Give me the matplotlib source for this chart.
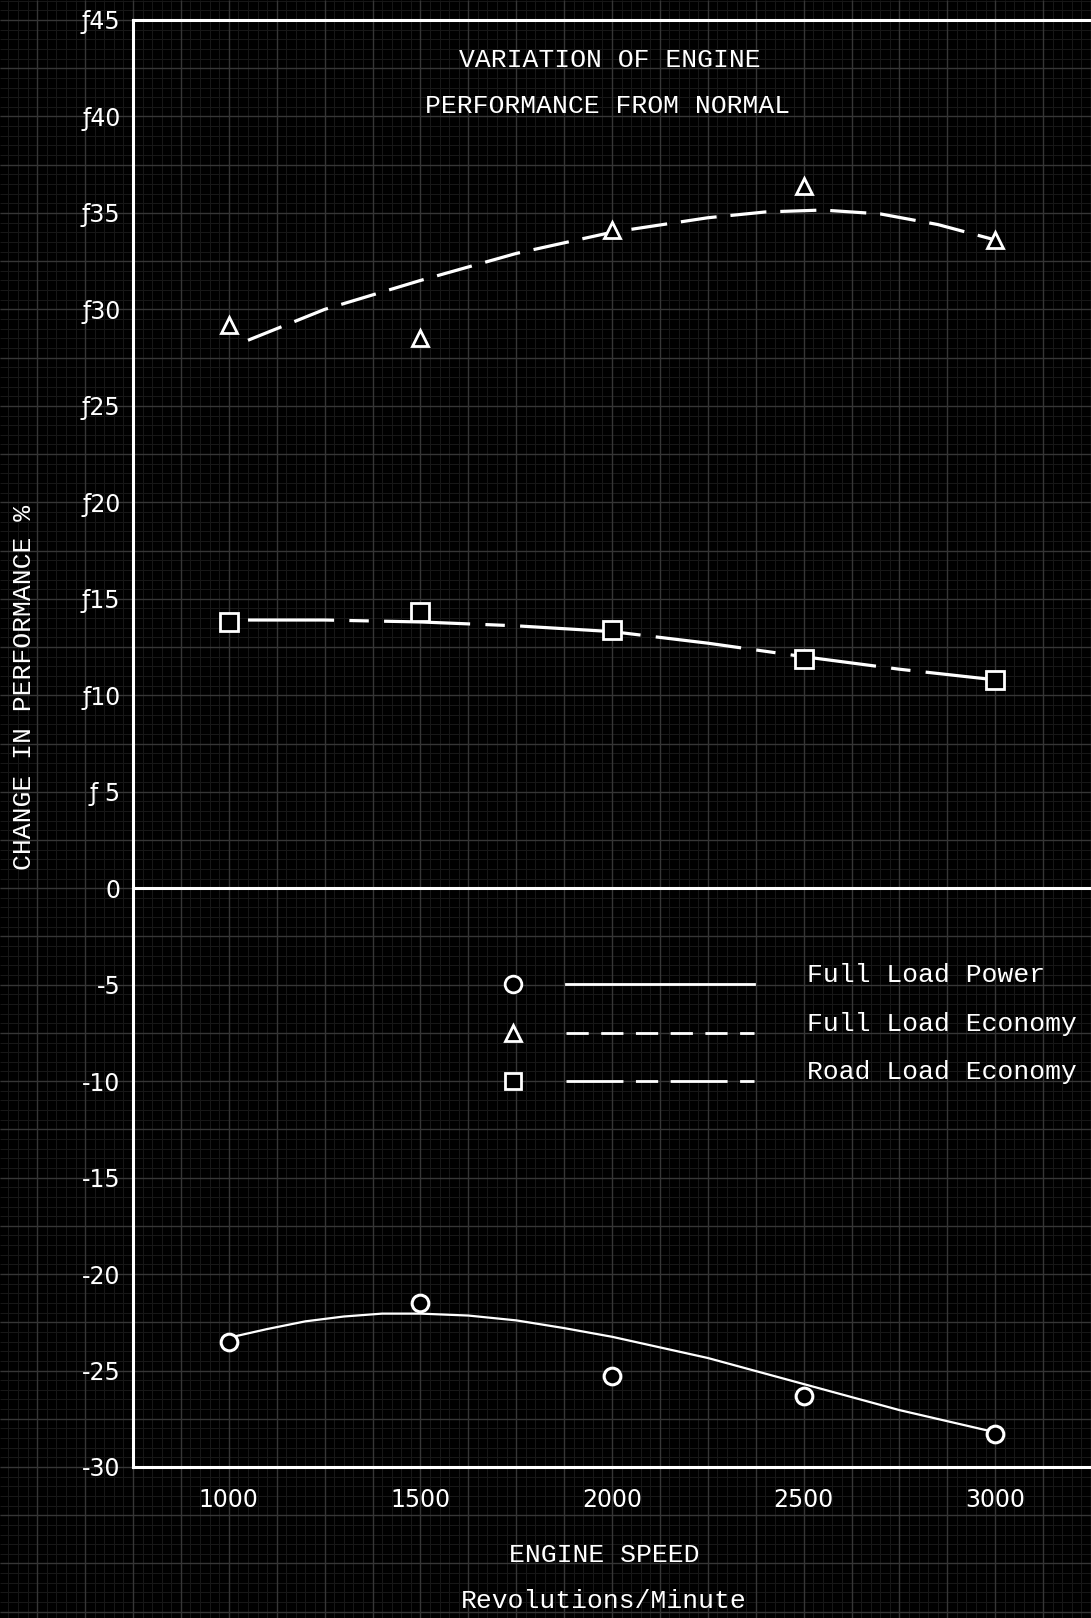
import numpy as np
import matplotlib
matplotlib.use("Agg")
import matplotlib.pyplot as plt

plt.rcParams['lines.scale_dashes'] = False

# measured points
rpm = [1000, 1500, 2000, 2500, 3000]
power_pts = [-23.5, -21.5, -25.3, -26.3, -28.3]
fle_pts = [29.2, 28.5, 34.1, 36.4, 33.6]
rle_pts = [13.8, 14.3, 13.4, 11.9, 10.8]

# faired curves
power_curve_rpm = [1000, 1100, 1200, 1300, 1400, 1500, 1625, 1750, 1875, 2000,
                   2250, 2500, 2750, 3000]
power_curve = [-23.3, -22.85, -22.45, -22.2, -22.05, -22.05, -22.15, -22.4, -22.8,
               -23.25, -24.35, -25.7, -27.05, -28.2]
fle_curve_rpm = [1050, 1250, 1500, 1750, 2000, 2250, 2400, 2550, 2700, 2850, 3000]
fle_curve = [28.4, 30.0, 31.5, 32.9, 34.0, 34.75, 35.05, 35.15, 34.95, 34.4, 33.6]
rle_curve_rpm = [1050, 1250, 1500, 1750, 2000, 2250, 2500, 2750, 3000]
rle_curve = [13.9, 13.9, 13.8, 13.6, 13.3, 12.7, 12.0, 11.35, 10.8]

xticks = [1000, 1500, 2000, 2500, 3000]
yticks = [45, 40, 35, 30, 25, 20, 15, 10, 5, 0, -5, -10, -15, -20, -25, -30]
ylabels = ['ƒ45', 'ƒ40', 'ƒ35', 'ƒ30', 'ƒ25', 'ƒ20', 'ƒ15', 'ƒ10', 'ƒ 5', '0',
           '-5', '-10', '-15', '-20', '-25', '-30']

legend_names = ['Full Load Power', 'Full Load Economy', 'Road Load Economy']

mono = 'Liberation Mono'
W, H = 1091, 1618
fig = plt.figure(figsize=(W / 100, H / 100), dpi=100, facecolor='black')

xlim = (750, 3250)
ylim = (-30, 45)
L, R = 133 / W, 1.0
B, T = 1 - 1467 / H, 1 - 20 / H

# graph paper behind everything, same scale as the plot
bg = fig.add_axes([0, 0, 1, 1], zorder=0)
bg.set_facecolor('black')
sx = (xlim[1] - xlim[0]) / (R - L)
sy = (ylim[1] - ylim[0]) / (T - B)
bx = (xlim[0] - L * sx, xlim[0] + (1 - L) * sx)
by = (ylim[0] - B * sy, ylim[0] + (1 - B) * sy)
bg.set_xlim(bx)
bg.set_ylim(by)
minor_x = np.arange(0, 4000, 25)
minor_y = np.arange(-50, 60, 0.5)
bg.vlines(minor_x, by[0], by[1], color='#181818', lw=0.7)
bg.hlines(minor_y, bx[0], bx[1], color='#181818', lw=0.7)
bg.vlines(minor_x[::5], by[0], by[1], color='#363636', lw=1.0)
bg.hlines(minor_y[::5], bx[0], bx[1], color='#363636', lw=1.0)
bg.axis('off')

ax = fig.add_axes([L, B, R - L, T - B], zorder=1)
ax.set_facecolor('none')
ax.set_xlim(xlim)
ax.set_ylim(ylim)
for s in ['left', 'top', 'bottom']:
    ax.spines[s].set_color('white')
    ax.spines[s].set_linewidth(2.2)
ax.spines['right'].set_visible(False)
ax.axhline(0, color='white', lw=2.2)

ax.set_xticks(xticks)
ax.set_xticklabels([str(v) for v in xticks])
ax.set_yticks(yticks)
ax.set_yticklabels(ylabels)
ax.tick_params(axis='x', length=0, pad=15, labelsize=17, labelcolor='white')
ax.tick_params(axis='y', length=0, pad=9, labelsize=17, labelcolor='white')

# curves
ax.plot(power_curve_rpm, power_curve, color='white', lw=1.6)
ax.plot(fle_curve_rpm, fle_curve, color='white', lw=2.3, dashes=(26, 10))
ax.plot(rle_curve_rpm, rle_curve, color='white', lw=2.3, dashes=(62, 11, 14, 11))

# points
ax.plot(rpm, power_pts, 'o', ms=12, mfc='black', mec='white', mew=2.2)
ax.plot(rpm, fle_pts, '^', ms=11, mfc='black', mec='white', mew=2)
ax.plot(rpm, rle_pts, 's', ms=13, mfc='black', mec='white', mew=2)

# key
key_y = [-4.95, -7.5, -10.0]
key_markers = ['o', '^', 's']
key_dashes = [None, (16, 9), (41, 9, 16, 9)]
for y, m, d, name in zip(key_y, key_markers, key_dashes, legend_names):
    ax.plot([1742], [y], m, ms=12, mfc='black', mec='white', mew=2)
    if d is None:
        ax.plot([1880, 2370], [y, y], color='white', lw=2)
    else:
        ax.plot([1880, 2370], [y, y], color='white', lw=2, dashes=d)
    ax.text(2510, y + 0.45, name, color='white', fontsize=19, family=mono,
            va='center', ha='left')

# titles and axis captions
fig.text(610 / W, 1 - 60 / H, 'VARIATION OF ENGINE', color='white', fontsize=19,
         family=mono, ha='center', va='center')
fig.text(608 / W, 1 - 106 / H, 'PERFORMANCE FROM NORMAL', color='white', fontsize=19,
         family=mono, ha='center', va='center')
fig.text(24 / W, 1 - 687 / H, 'CHANGE IN PERFORMANCE %', color='white', fontsize=19,
         family=mono, rotation=90, ha='center', va='center')
fig.text(604 / W, 1 - 1555 / H, 'ENGINE SPEED', color='white', fontsize=19,
         family=mono, ha='center', va='center')
fig.text(604 / W, 1 - 1601 / H, 'Revolutions/Minute', color='white', fontsize=19,
         family=mono, ha='center', va='center')

fig.savefig('out.png', dpi=100, facecolor='black')
